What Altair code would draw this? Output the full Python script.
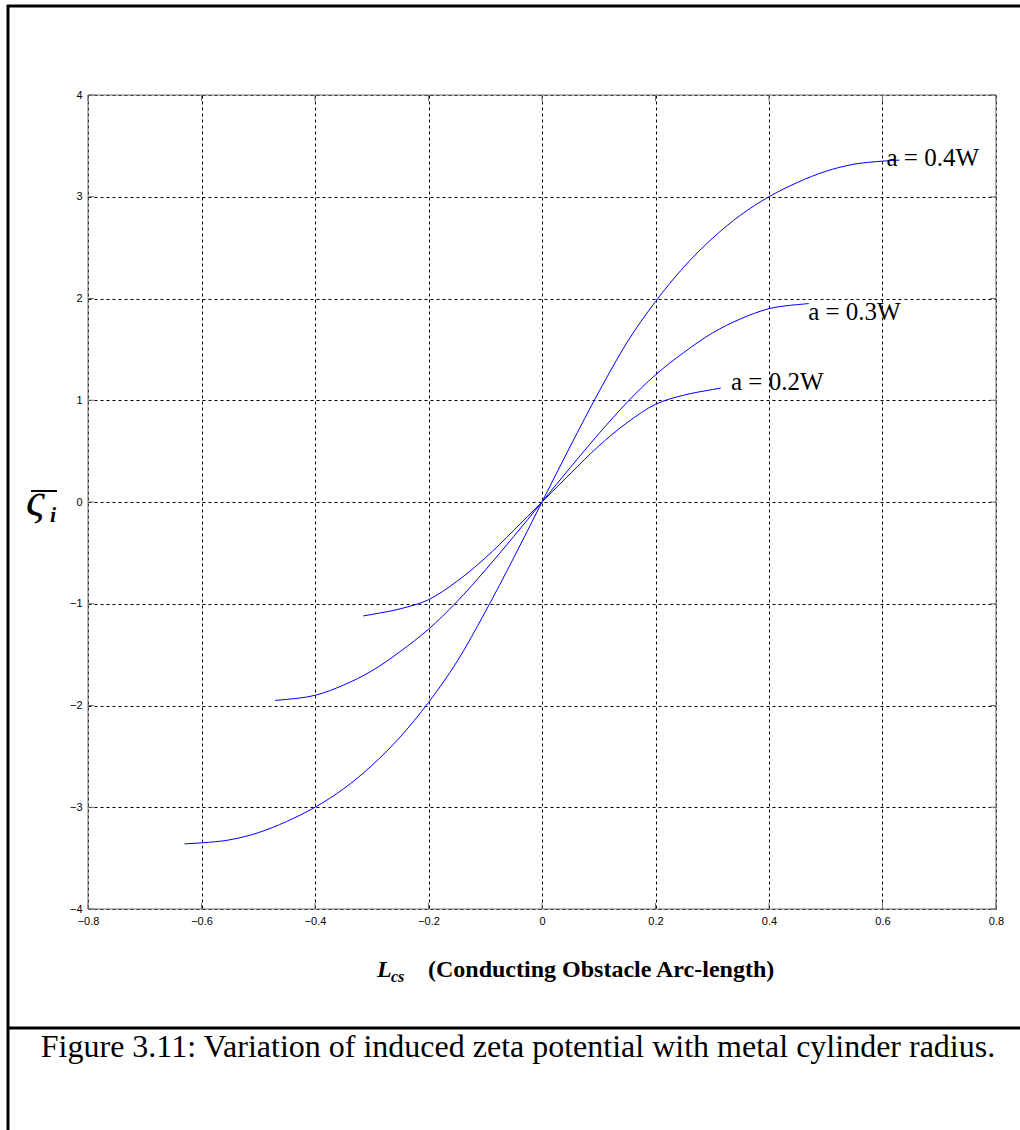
import altair as alt
import pandas as pd

# ---------------- data ----------------
series_names = ["a = 0.2W", "a = 0.3W", "a = 0.4W"]

x_a02 = [-0.315, -0.3, -0.25, -0.2, -0.15, -0.1, -0.05, 0.0, 0.05, 0.1, 0.15, 0.2, 0.25, 0.3, 0.315]
y_a02 = [-1.12, -1.105, -1.05, -0.96, -0.78, -0.55, -0.28, 0.0, 0.28, 0.55, 0.78, 0.96, 1.05, 1.105, 1.12]

x_a03 = [-0.47, -0.45, -0.4, -0.35, -0.3, -0.25, -0.2, -0.15, -0.1, -0.05, 0.0,
         0.05, 0.1, 0.15, 0.2, 0.25, 0.3, 0.35, 0.4, 0.45, 0.47]
y_a03 = [-1.95, -1.94, -1.9, -1.8, -1.66, -1.47, -1.25, -0.98, -0.67, -0.34, 0.0,
         0.34, 0.67, 0.98, 1.25, 1.47, 1.66, 1.8, 1.9, 1.94, 1.95]

x_a04 = [-0.63, -0.6, -0.55, -0.5, -0.45, -0.4, -0.35, -0.3, -0.25, -0.2, -0.15, -0.1, -0.05, 0.0,
         0.05, 0.1, 0.15, 0.2, 0.25, 0.3, 0.35, 0.4, 0.45, 0.5, 0.55, 0.6, 0.63]
y_a04 = [-3.36, -3.35, -3.32, -3.25, -3.14, -3.0, -2.82, -2.59, -2.31, -1.97, -1.57, -1.08, -0.55, 0.0,
         0.55, 1.08, 1.57, 1.97, 2.31, 2.59, 2.82, 3.0, 3.14, 3.25, 3.32, 3.35, 3.36]

label_x = [0.333, 0.469, 0.607]
label_y = [1.104, 1.785, 3.305]

x_ticks = [-0.8, -0.6, -0.4, -0.2, 0, 0.2, 0.4, 0.6, 0.8]
y_ticks = [-4, -3, -2, -1, 0, 1, 2, 3, 4]

caption = "Figure 3.11: Variation of induced zeta potential with metal cylinder radius."
x_title_main = "L"
x_title_sub = "cs"
x_title_rest = "(Conducting Obstacle Arc-length)"
y_title_main = "ς"
y_title_sub = "i"

# ---------------- tables ----------------
rows = []
for name, xs, ys in zip(series_names, [x_a02, x_a03, x_a04], [y_a02, y_a03, y_a04]):
    for i, (xv, yv) in enumerate(zip(xs, ys)):
        rows.append({"series": name, "x": xv, "y": yv, "order": i})
curves = pd.DataFrame(rows)
labels = pd.DataFrame({"series": series_names, "x": label_x, "y": label_y})
xt = pd.DataFrame({"v": x_ticks})
yt = pd.DataFrame({"v": y_ticks})
one = pd.DataFrame({"k": [0]})

W, H = 908, 814
SERIF = "Liberation Serif"
SANS = "Liberation Sans"
FRAME = "#6e6e6e"

xscale = alt.Scale(domain=[-0.8, 0.8], nice=False, zero=False)
yscale = alt.Scale(domain=[-4, 4], nice=False, zero=False)

xaxis = alt.Axis(values=x_ticks, format="~g", grid=True, gridColor="#000000", gridDash=[3, 3],
                 gridWidth=1, domain=False, ticks=False, tickSize=0, labelPadding=6,
                 labelFont=SANS, labelFontSize=11, labelColor="#000000", labelFlush=False,
                 labelOverlap=False, title=None)
yaxis = alt.Axis(values=y_ticks, format="~g", grid=True, gridColor="#000000", gridDash=[3, 3],
                 gridWidth=1, domain=False, ticks=False, tickSize=0, labelPadding=6,
                 labelFont=SANS, labelFontSize=11, labelColor="#000000", labelFlush=False,
                 labelOverlap=False, title=None)

lines = alt.Chart(curves).mark_line(color="#0000ff", strokeWidth=1, interpolate="monotone").encode(
    x=alt.X("x:Q", scale=xscale, axis=xaxis),
    y=alt.Y("y:Q", scale=yscale, axis=yaxis),
    detail="series:N",
    order="order:Q",
)

curve_labels = alt.Chart(labels).mark_text(
    font=SERIF, fontSize=25, align="left", baseline="alphabetic", color="#000000"
).encode(x=alt.X("x:Q", scale=xscale), y=alt.Y("y:Q", scale=yscale), text="series:N")

# plot frame (grey box) and inward ticks
frame = [
    alt.Chart(one).mark_rule(color=FRAME, strokeWidth=1).encode(x=alt.value(0), y=alt.value(0), y2=alt.value(H)),
    alt.Chart(one).mark_rule(color=FRAME, strokeWidth=1).encode(x=alt.value(W), y=alt.value(0), y2=alt.value(H)),
    alt.Chart(one).mark_rule(color=FRAME, strokeWidth=1).encode(y=alt.value(0), x=alt.value(0), x2=alt.value(W)),
    alt.Chart(one).mark_rule(color=FRAME, strokeWidth=1).encode(y=alt.value(H), x=alt.value(0), x2=alt.value(W)),
]
ticks = [
    alt.Chart(yt).mark_rule(color=FRAME, strokeWidth=1).encode(y=alt.Y("v:Q", scale=yscale), x=alt.value(0), x2=alt.value(6)),
    alt.Chart(yt).mark_rule(color=FRAME, strokeWidth=1).encode(y=alt.Y("v:Q", scale=yscale), x=alt.value(W - 6), x2=alt.value(W)),
    alt.Chart(xt).mark_rule(color=FRAME, strokeWidth=1).encode(x=alt.X("v:Q", scale=xscale), y=alt.value(H - 6), y2=alt.value(H)),
    alt.Chart(xt).mark_rule(color=FRAME, strokeWidth=1).encode(x=alt.X("v:Q", scale=xscale), y=alt.value(0), y2=alt.value(6)),
]

# page decorations: left border, top border, caption separator
deco = [
    alt.Chart(one).mark_rule(color="#000000", strokeWidth=3).encode(x=alt.value(-80), y=alt.value(-90), y2=alt.value(1040)),
    alt.Chart(one).mark_rule(color="#000000", strokeWidth=3).encode(y=alt.value(-89), x=alt.value(-81), x2=alt.value(940)),
    alt.Chart(one).mark_rule(color="#000000", strokeWidth=3).encode(y=alt.value(933), x=alt.value(-81), x2=alt.value(940)),
]

texts = [
    alt.Chart(one).mark_text(text=caption, font=SERIF, fontSize=32, align="center", baseline="alphabetic",
                             color="#000000").encode(x=alt.value(430), y=alt.value(962)),
    alt.Chart(one).mark_text(text=x_title_main, font=SERIF, fontSize=24, fontStyle="italic", fontWeight="bold",
                             align="left", baseline="alphabetic", color="#000000").encode(x=alt.value(289), y=alt.value(882)),
    alt.Chart(one).mark_text(text=x_title_sub, font=SERIF, fontSize=16, fontStyle="italic", fontWeight="bold",
                             align="left", baseline="alphabetic", color="#000000").encode(x=alt.value(303), y=alt.value(887)),
    alt.Chart(one).mark_text(text=x_title_rest, font=SERIF, fontSize=24, fontWeight="bold",
                             align="left", baseline="alphabetic", color="#000000").encode(x=alt.value(340), y=alt.value(882)),
    alt.Chart(one).mark_text(text=y_title_main, font=SERIF, fontSize=46, fontStyle="italic",
                             align="left", baseline="alphabetic", color="#000000").encode(x=alt.value(-62), y=alt.value(420)),
    alt.Chart(one).mark_text(text=y_title_sub, font=SERIF, fontSize=22, fontStyle="italic", fontWeight="bold",
                             align="left", baseline="alphabetic", color="#000000").encode(x=alt.value(-38), y=alt.value(427)),
    alt.Chart(one).mark_rule(color="#000000", strokeWidth=2).encode(y=alt.value(396), x=alt.value(-57), x2=alt.value(-31)),
]

chart = alt.layer(lines, curve_labels, *ticks, *frame, *deco, *texts).properties(
    width=W, height=H,
    padding={"left": 88, "top": 95, "right": 24, "bottom": 221},
    autosize=alt.AutoSizeParams(type="none"),
    background="#ffffff",
).configure_view(stroke=None)

chart.save("out.html", embed_options={"renderer": "svg", "actions": False})
